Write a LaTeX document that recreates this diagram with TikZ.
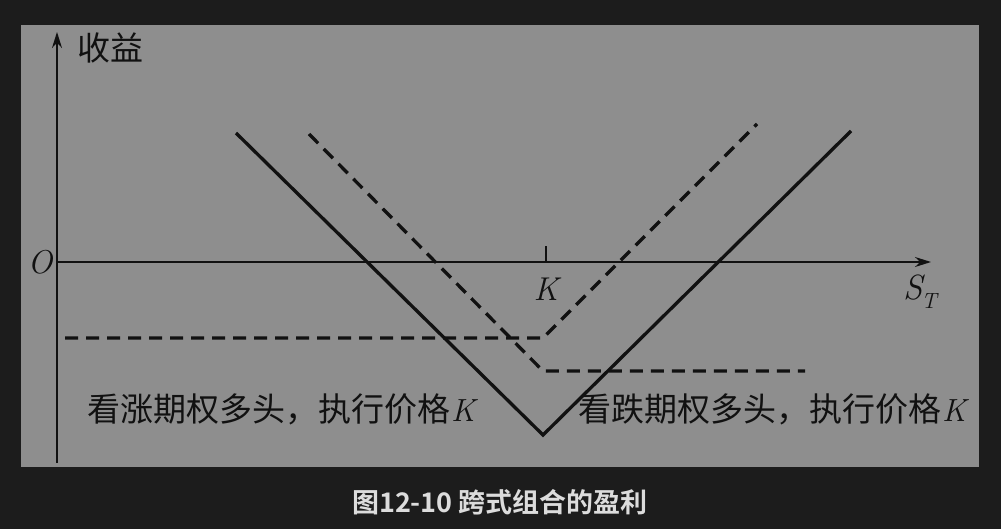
\documentclass[tikz,border=0pt]{standalone}
\usepackage{fontspec}
\newfontfamily\cjk{Noto Sans CJK SC}
\newfontfamily\cjkb{Noto Sans CJK SC Bold}
\usetikzlibrary{arrows.meta}
\definecolor{bgdark}{HTML}{1C1C1C}
\definecolor{panel}{HTML}{8E8E8E}
\definecolor{ink}{HTML}{111111}
\definecolor{captext}{HTML}{DCDCDC}
\newcommand{\itK}{{\rmfamily\itshape\fontsize{32}{36}\selectfont K}}
\tikzset{
  axisline/.style={draw=ink,line width=1.6pt},
  payoff/.style={draw=ink,line width=3.3pt},
  payoffdash/.style={draw=ink,line width=3.3pt,dash pattern=on 13pt off 8pt},
  lbl/.style={text=ink,inner sep=0pt,font=\cjk\fontsize{33}{38}\selectfont},
  mathlbl/.style={text=ink,inner sep=0pt,font=\rmfamily\itshape\fontsize{33}{38}\selectfont},
}
\begin{document}
\begin{tikzpicture}[x=1pt,y=-1pt]
\useasboundingbox (0,0) rectangle (1001,529);
\fill[bgdark] (0,0) rectangle (1001,529);
\fill[panel] (21,25) rectangle (979,467);
% axes
\coordinate (ybot) at (57,463);
\coordinate (ytop) at (57,32);
\coordinate (xl) at (57,262);
\coordinate (xr) at (931,262);
\draw[axisline,-{Stealth[length=16pt,width=10pt]}] (ybot) -- (ytop);
\draw[axisline,-{Stealth[length=16pt,width=10pt]}] (xl) -- (xr);
\coordinate (kb) at (546,262);
\coordinate (kt) at (546,246);
\draw[axisline] (kb) -- (kt);
% labels
\node[lbl] (yl) at (110,48) {收益};
\node[mathlbl] (ol) at (40,262) {O};
\node[mathlbl] (kl) at (546,289) {K};
\node[mathlbl,anchor=west] (sl) at (903,292) {\fontsize{35}{38}\selectfont S\kern-1pt\raisebox{-9pt}{\fontsize{22}{24}\selectfont T}};
% solid straddle
\coordinate (s1) at (236,133);
\coordinate (sv) at (543,435);
\coordinate (s2) at (851,131);
\draw[payoff,line join=miter] (s1) -- (sv) -- (s2);
% call
\coordinate (c1) at (65,338);
\coordinate (cv) at (543,338);
\coordinate (c2) at (757,124);
\draw[payoffdash] (c1) -- (cv) -- (c2);
% put
\coordinate (p1) at (309,134);
\coordinate (pv) at (543,371);
\coordinate (p2) at (805,371);
\draw[payoffdash] (p1) -- (pv) -- (p2);
% text labels
\node[lbl,anchor=west] (cl) at (87,409) {看涨期权多头，执行价格\kern1pt\itK};
\node[lbl,anchor=west] (pl) at (578,409) {看跌期权多头，执行价格\kern1pt\itK};
% caption
\node[text=captext,inner sep=0pt,font=\cjkb\fontsize{27}{32}\selectfont] (cap) at (500,502) {图12-10 跨式组合的盈利};
\end{tikzpicture}
\end{document}
